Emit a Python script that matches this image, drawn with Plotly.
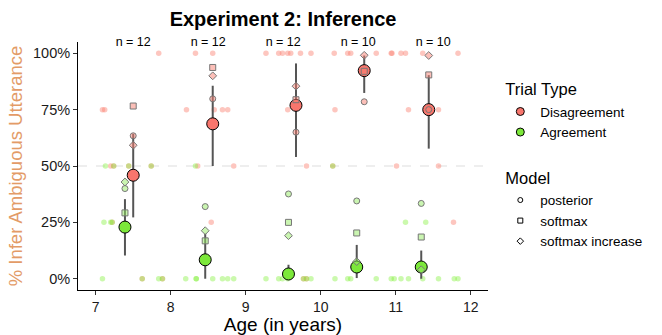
import plotly.graph_objects as go

# ---- data ----
groups_x = [7.5, 8.5, 9.5, 10.5, 11.5]
n_labels = ["n = 12", "n = 12", "n = 12", "n = 10", "n = 10"]

# individual participant points (age, proportion)
dis_age = [7.84, 8.33, 8.56, 9.27, 9.44, 9.49, 9.56, 9.60, 9.73, 9.87, 10.18, 10.36, 10.40, 10.74, 10.94, 10.95, 11.07, 11.13, 11.36, 11.83,
           7.09, 7.12, 8.21, 8.58, 8.69, 8.76, 9.56, 10.19, 11.17, 11.57,
           7.20, 7.24, 7.44, 7.74, 8.36, 8.84, 9.81, 10.16, 11.01, 11.57,
           7.22, 8.54, 11.77,
           7.62, 7.89, 9.77, 9.81]
dis_val = [1.0] * 20 + [0.75] * 10 + [0.5] * 10 + [0.25] * 3 + [0.0] * 4

agr_age = [7.13, 7.24, 7.44, 7.74, 8.33, 10.16,
           7.11, 7.20, 7.22, 11.13, 11.40,
           7.09, 7.62, 7.84, 7.89, 8.20, 8.34, 8.34, 8.56, 8.69, 8.76, 8.84, 9.27, 9.44, 9.49, 9.56,
           9.77, 9.81, 9.87, 10.19, 10.36, 10.40, 10.74, 10.94, 10.98, 11.07, 11.17, 11.36, 11.57, 11.78, 11.83]
agr_val = [0.5] * 6 + [0.25] * 5 + [0.0] * 30

# group means with error bars
dis_mean_x = [7.50, 8.56, 9.67, 10.58, 11.44]
agr_mean_x = [7.39, 8.46, 9.57, 10.48, 11.34]
dis_mean = [0.459, 0.687, 0.769, 0.923, 0.750]
dis_lo = [0.272, 0.500, 0.540, 0.824, 0.577]
dis_hi = [0.643, 0.856, 0.955, 0.990, 0.903]
agr_mean = [0.229, 0.084, 0.021, 0.052, 0.052]
agr_lo = [0.103, 0.000, 0.000, 0.003, 0.000]
agr_hi = [0.353, 0.200, 0.062, 0.150, 0.125]

# model predictions
dis_posterior = [0.634, 0.798, 0.650, 0.785, 0.750]
dis_softmax = [0.766, 0.937, 0.794, 0.920, 0.904]
dis_softinc = [0.592, 0.900, 0.854, 0.991, 0.990]
agr_posterior = [0.400, 0.320, 0.376, 0.345, 0.334]
agr_softmax = [0.292, 0.168, 0.250, 0.203, 0.185]
agr_softinc = [0.429, 0.213, 0.191, 0.076, 0.040]

y_ticks = [0, 0.25, 0.5, 0.75, 1.0]
y_tick_text = ["0%", "25%", "50%", "75%", "100%"]
x_ticks = [7, 8, 9, 10, 11, 12]

PINK = "#F8766D"
GREEN = "#7CE83A"
PINK_A = "rgba(250,128,114,0.45)"
GREEN_A = "rgba(124,240,50,0.40)"
FONT = "Liberation Sans, Arial, sans-serif"

fig = go.Figure()

# reference line at 50%
fig.add_shape(type="line", xref="paper", x0=0, x1=1, yref="y", y0=0.5, y1=0.5,
              line=dict(color="#dddddd", width=1.2, dash="dash"), layer="below")

# individual points
fig.add_trace(go.Scatter(x=dis_age, y=dis_val, mode="markers", showlegend=False, hoverinfo="skip",
                         marker=dict(size=5.5, color=PINK_A, line=dict(width=0))))
fig.add_trace(go.Scatter(x=agr_age, y=agr_val, mode="markers", showlegend=False, hoverinfo="skip",
                         marker=dict(size=5.5, color=GREEN_A, line=dict(width=0))))

# means with error bars
def add_mean(xs, m, lo, hi, color):
    fig.add_trace(go.Scatter(
        x=xs, y=m, mode="markers", showlegend=False,
        error_y=dict(type="data", symmetric=False,
                     array=[h - v for h, v in zip(hi, m)],
                     arrayminus=[v - l for v, l in zip(m, lo)],
                     width=0, thickness=2, color="#555555"),
        marker=dict(size=12, color=color, line=dict(color="black", width=1))))

add_mean(dis_mean_x, dis_mean, dis_lo, dis_hi, PINK)
add_mean(agr_mean_x, agr_mean, agr_lo, agr_hi, GREEN)

# model points
def add_model(xs, vals, symbol, fill):
    fig.add_trace(go.Scatter(x=xs, y=vals, mode="markers", showlegend=False,
                             marker=dict(symbol=symbol, size=6, color=fill,
                                         line=dict(color="#777777", width=1))))

for vals, sym in [(dis_posterior, "circle"), (dis_softmax, "square"), (dis_softinc, "diamond")]:
    add_model(dis_mean_x, vals, sym, "rgba(250,128,114,0.5)")
for vals, sym in [(agr_posterior, "circle"), (agr_softmax, "square"), (agr_softinc, "diamond")]:
    add_model(agr_mean_x, vals, sym, "rgba(150,235,100,0.5)")

# n labels
fig.add_trace(go.Scatter(x=groups_x, y=[1.046] * len(groups_x), mode="text", text=n_labels,
                         textfont=dict(size=12.5, color="black", family=FONT),
                         showlegend=False, hoverinfo="skip", cliponaxis=False))

# legend entries
fig.add_trace(go.Scatter(x=[None], y=[None], mode="markers", name="Disagreement",
                         legendgroup="trial", legendgrouptitle=dict(text="Trial Type", font=dict(size=16.5, color="black")),
                         marker=dict(size=8, color=PINK, line=dict(color="black", width=1))))
fig.add_trace(go.Scatter(x=[None], y=[None], mode="markers", name="Agreement",
                         legendgroup="trial",
                         marker=dict(size=8, color=GREEN, line=dict(color="black", width=1))))
for i, (nm, sym) in enumerate([("posterior", "circle"), ("softmax", "square"), ("softmax increase", "diamond")]):
    kw = {}
    if i == 0:
        kw["legendgrouptitle"] = dict(text="Model", font=dict(size=16.5, color="black"))
    fig.add_trace(go.Scatter(x=[None], y=[None], mode="markers", name=nm, legendgroup="model",
                             marker=dict(symbol=sym, size=5, color="white", line=dict(color="black", width=1)), **kw))

fig.update_layout(
    width=662, height=335,
    margin=dict(l=78, r=174, t=42, b=45, autoexpand=False),
    paper_bgcolor="white", plot_bgcolor="white",
    font=dict(family=FONT, size=14, color="black"),
    title=dict(text="<b>Experiment 2: Inference</b>", x=0.5, xref="paper", xanchor="center",
               y=0.943, yref="container", yanchor="middle", font=dict(size=20, color="black")),
    legend=dict(x=1.03, y=0.88, xanchor="left", yanchor="top",
                traceorder="grouped", tracegroupgap=23, font=dict(size=13.5, color="black"),
                itemsizing="trace", bgcolor="rgba(0,0,0,0)"),
    xaxis=dict(range=[6.764, 12.23], tickvals=x_ticks, showgrid=False, zeroline=False, automargin=False,
               showline=True, linecolor="black", linewidth=1, ticks="outside", ticklen=4,
               tickcolor="#333", tickfont=dict(size=14, color="#1a1a1a"),
               title=dict(text="Age (in years)", font=dict(size=19, color="black"), standoff=3)),
    yaxis=dict(range=[-0.05, 1.05], tickvals=y_ticks, ticktext=y_tick_text, showgrid=False, zeroline=False,
               automargin=False,
               showline=True, linecolor="black", linewidth=1, ticks="outside", ticklen=4,
               tickcolor="#333", tickfont=dict(size=14.5, color="#1a1a1a"),
               title=dict(text="% Infer Ambiguous Utterance", font=dict(size=18.5, color="#E39B67"), standoff=5)),
)

fig.write_html("out.html", config={"displayModeBar": False},
               post_script="document.body.style.margin='0';")
